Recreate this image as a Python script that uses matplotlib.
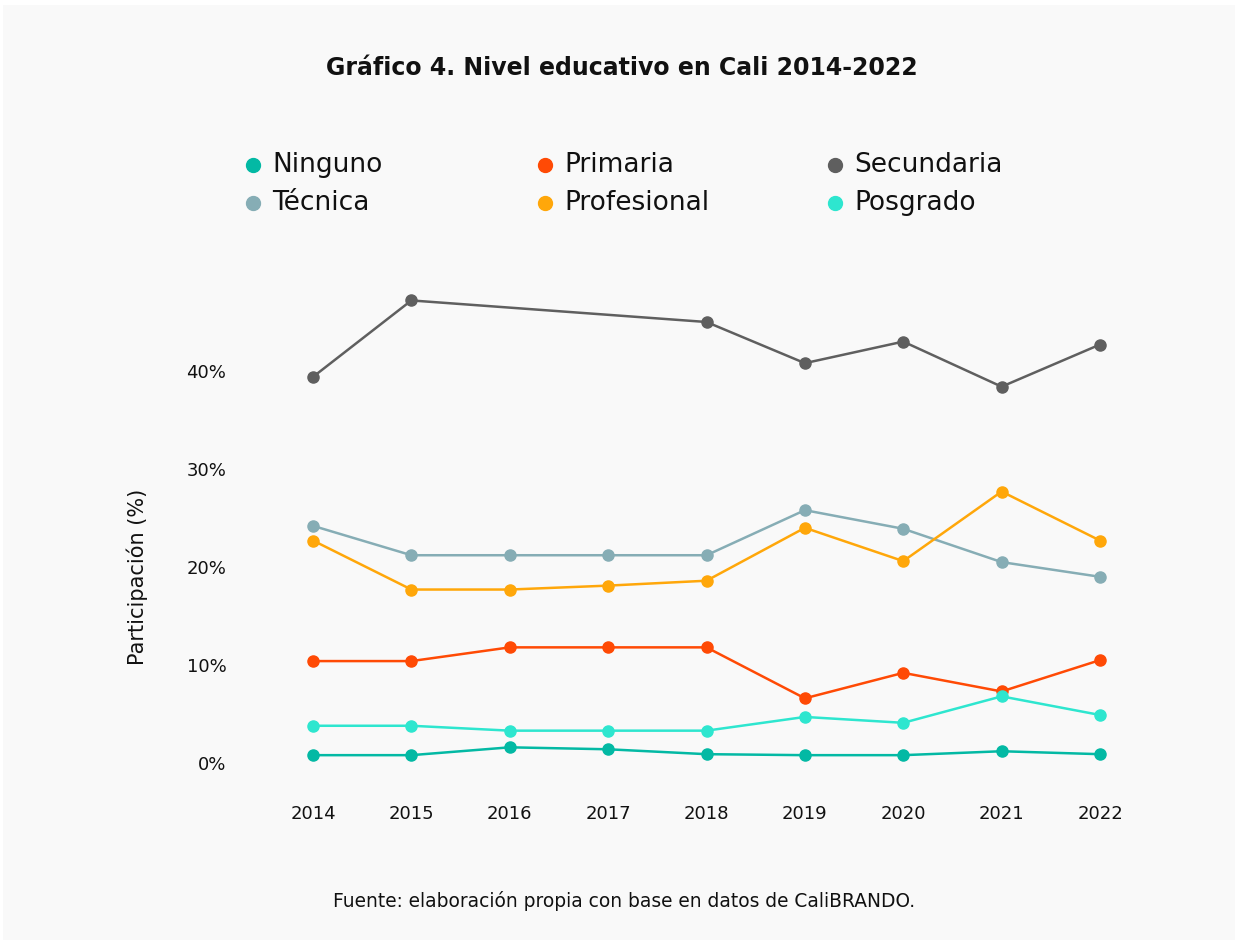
import numpy as np
import matplotlib
matplotlib.use("Agg")
import matplotlib.pyplot as plt
from matplotlib.lines import Line2D
from matplotlib.patches import Rectangle

plt.rcParams['font.family'] = ['DejaVu Sans']

years = [2014, 2015, 2016, 2017, 2018, 2019, 2020, 2021, 2022]
ninguno = [0.8, 0.8, 1.6, 1.4, 0.9, 0.8, 0.8, 1.2, 0.9]
primaria = [10.4, 10.4, 11.8, 11.8, 11.8, 6.6, 9.2, 7.3, 10.5]
secundaria = [39.4, 47.2, None, None, 45.0, 40.8, 43.0, 38.4, 42.7]
tecnica = [24.2, 21.2, 21.2, 21.2, 21.2, 25.8, 23.9, 20.5, 19.0]
profesional = [22.7, 17.7, 17.7, 18.1, 18.6, 24.0, 20.6, 27.7, 22.7]
posgrado = [3.8, 3.8, 3.3, 3.3, 3.3, 4.7, 4.1, 6.8, 4.9]

series = [
    ("Ninguno", ninguno, "#03b9a4"),
    ("Primaria", primaria, "#ff4a05"),
    ("Secundaria", secundaria, "#5f5f5f"),
    ("Técnica", tecnica, "#86adb5"),
    ("Profesional", profesional, "#ffa70a"),
    ("Posgrado", posgrado, "#2ee6cf"),
]
yticks = [0, 10, 20, 30, 40]
ytick_labels = ["0%", "10%", "20%", "30%", "40%"]

W, H = 1238, 943
fig = plt.figure(figsize=(W / 100, H / 100), dpi=100, facecolor="white")
fig.add_artist(Rectangle((3 / W, 3 / H), (W - 6) / W, (H - 8) / H,
                         transform=fig.transFigure, facecolor="#f9f9f9",
                         edgecolor="none", zorder=-10))

# axes placement
x0, x1 = 2013.5, 2022.5
y0, y1 = -2, 49
pxy = 9.8
left = 313 - 0.5 * 98.375
right = 1100 + 0.5 * 98.375
bottom_px = 763 + 2 * pxy
top_px = 763 - 49 * pxy
ax = fig.add_axes([left / W, 1 - bottom_px / H, (right - left) / W, (bottom_px - top_px) / H])
ax.set_facecolor("none")
ax.set_xlim(x0, x1)
ax.set_ylim(y0, y1)

for name, vals, col in series:
    xs = [x for x, v in zip(years, vals) if v is not None]
    vs = [v for v in vals if v is not None]
    ax.plot(xs, vs, color=col, lw=1.8, marker="o", markersize=8, zorder=3)

for s in ax.spines.values():
    s.set_visible(False)
ax.set_xticks(years)
ax.set_xticklabels([str(y) for y in years])
ax.set_yticks(yticks)
ax.set_yticklabels(ytick_labels)
ax.tick_params(axis="both", length=0, labelsize=13, colors="#111111")
ax.tick_params(axis="x", pad=16)
ax.tick_params(axis="y", pad=27)

fig.text(137 / W, 1 - 577 / H, "Participación (%)", rotation=90, ha="center", va="center",
         fontsize=15, color="#111111")

fig.text(622 / W, 1 - 68 / H, "Gráfico 4. Nivel educativo en Cali 2014-2022",
         ha="center", va="center", fontsize=17, fontweight="bold", color="#111111")

fig.text(624 / W, 1 - 901 / H, "Fuente: elaboración propia con base en datos de CaliBRANDO.",
         ha="center", va="center", fontsize=13.4, color="#111111")

# legend (manual)
leg_x = [253, 545, 835]
leg_y = [165, 203]
for i, (name, vals, col) in enumerate(series):
    r, c = divmod(i, 3)
    mx, my = leg_x[c], leg_y[r]
    fig.add_artist(Line2D([mx / W], [1 - my / H], transform=fig.transFigure,
                          marker="o", markersize=10, color=col, linestyle="none"))
    fig.text((mx + 19) / W, 1 - my / H, name, ha="left", va="center",
             fontsize=19, color="#111111")

fig.savefig("out.png", dpi=100, facecolor="white")
